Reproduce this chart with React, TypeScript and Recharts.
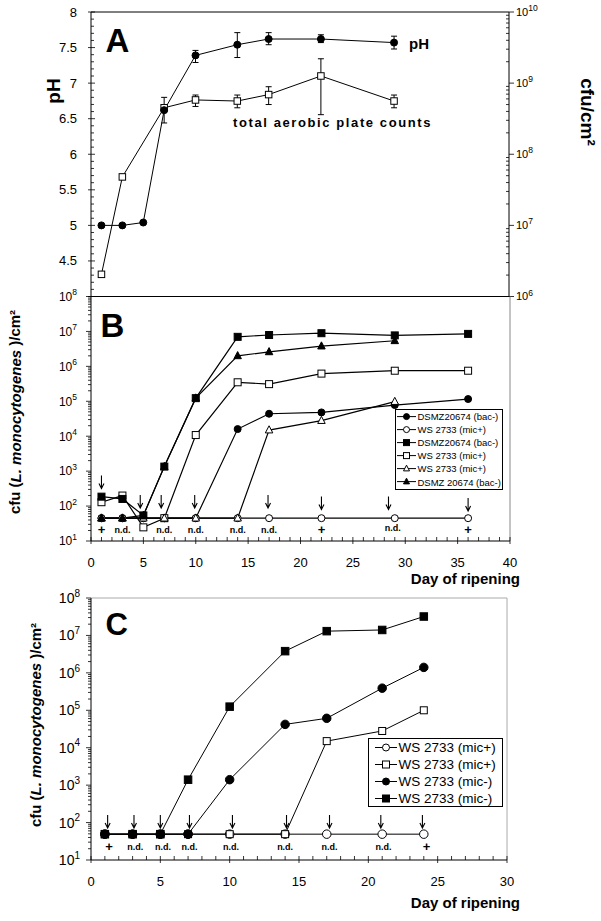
import React from 'react';
import { ComposedChart, Line, Scatter, XAxis, YAxis, ErrorBar, ReferenceLine } from 'recharts';

const FONT = '"Liberation Sans", Arial, Helvetica, sans-serif';

// ---- Panel A: pH and total aerobic plate counts ----
const daysA = [1, 3, 5, 7, 10, 14, 17, 22, 29];
const phMean = [5.0, 5.0, 5.04, 6.62, 7.39, 7.54, 7.62, 7.62, 7.57];
const phLow = [null, null, null, 6.44, 7.29, 7.36, 7.54, 7.57, 7.48];
const phHigh = [null, null, null, 6.8, 7.46, 7.71, 7.71, 7.68, 7.66];
const apcMean = [2.05e6, 4.8e7, null, 4.5e8, 5.8e8, 5.6e8, 6.9e8, 1.26e9, 5.6e8];
const apcLow = [null, null, null, null, 4.7e8, 4.5e8, 5.0e8, 3.6e8, 4.5e8];
const apcHigh = [null, null, null, null, 6.8e8, 6.8e8, 8.9e8, 2.2e9, 6.8e8];

// ---- Panel B ----
const daysB = [1, 3, 5, 7, 10, 14, 17, 22, 29, 36];
const bCircleFilled = [45, 45, 45, 45, 45, 1.6e4, 4.4e4, 4.8e4, 7.8e4, 1.16e5];
const bCircleOpen = [45, 45, 45, 45, 45, 45, 45, 45, 45, 45];
const bSquareFilled = [186, 160, 54, 1.35e3, 1.23e5, 7.0e6, 7.9e6, 8.9e6, 7.7e6, 8.5e6];
const bSquareOpen = [129, 200, 24.6, 45, 1.08e4, 3.5e5, 3.1e5, 6.2e5, 7.5e5, 7.5e5];
const bTriangleOpen = [45, 45, 45, 45, 45, 45, 1.5e4, 2.8e4, 9.8e4, null];
const bTriangleFilled = [45, 45, 54, 1.35e3, 1.23e5, 2.0e6, 2.6e6, 3.8e6, 5.4e6, null];
const legendB = ['DSMZ20674 (bac-)', 'WS 2733 (mic+)', 'DSMZ20674 (bac-)', 'WS 2733 (mic+)', 'WS 2733 (mic+)', 'DSMZ 20674 (bac-)'];
const arrowDaysB = [1, 4.7, 6.7, 9.9, 16.9, 22, 28.4, 36];
const arrowTipB = [320, 88, 88, 88, 88, 80, 80, 72];
const markDaysB = [1, 3, 7, 10, 14, 17, 22, 28.8, 36];
const markTextB = ['+', 'n.d.', 'n.d.', 'n.d.', 'n.d.', 'n.d.', '+', 'n.d.', '+'];
const markLevelB = [21, 21, 21, 21, 21, 21, 21, 24, 21];

// ---- Panel C ----
const daysC = [1, 3, 5, 7, 10, 14, 17, 21, 24];
const cCircleOpen = [49, 49, 49, 49, 49, 49, 49, 49, 49];
const cSquareOpen = [49, 49, 49, 49, 49, 49, 1.5e4, 2.8e4, 1.0e5];
const cCircleFilled = [49, 49, 49, 49, 1.4e3, 4.2e4, 6.1e4, 3.9e5, 1.4e6];
const cSquareFilled = [49, 49, 49, 1.4e3, 1.25e5, 3.8e6, 1.3e7, 1.4e7, 3.2e7];
const legendC = ['WS 2733 (mic+)', 'WS 2733 (mic+)', 'WS 2733 (mic-)', 'WS 2733 (mic-)'];
const arrowDaysC = [1.2, 3.1, 5, 7.1, 10.2, 14.1, 17.2, 20.9, 23.9];
const arrowTipC = [72, 72, 72, 72, 72, 72, 72, 72, 72];
const markDaysC = [1.3, 3.2, 5.2, 7.1, 10.1, 14.0, 17.2, 21.1, 24.2];
const markTextC = ['+', 'n.d.', 'n.d.', 'n.d.', 'n.d.', 'n.d.', 'n.d.', 'n.d.', '+'];
const markLevelC = [22.6, 22.6, 22.6, 22.6, 22.6, 22.6, 22.6, 22.6, 22.6];

// tick lists
const phTicks: number[] = [];
for (let i = 40; i <= 80; i++) phTicks.push(i / 10);
const logTicks = (lo: number, hi: number) => {
  const out: number[] = [];
  for (let e = lo; e < hi; e++) for (let m = 1; m < 10; m++) out.push(m * Math.pow(10, e));
  out.push(Math.pow(10, hi));
  return out;
};
const dayTicks = (max: number) => Array.from({ length: max + 1 }, (_, i) => i);

const dataA = daysA.map((d, i) => ({
  day: d,
  ph: phMean[i],
  phErr: phLow[i] != null ? [phMean[i] - (phLow[i] as number), (phHigh[i] as number) - phMean[i]] : undefined,
  apc: apcMean[i],
  apcErr: apcLow[i] != null && apcMean[i] != null
    ? [(apcMean[i] as number) - (apcLow[i] as number), (apcHigh[i] as number) - (apcMean[i] as number)]
    : undefined,
}));

const dataB = daysB.map((d, i) => ({
  day: d,
  cf: bCircleFilled[i], co: bCircleOpen[i], sf: bSquareFilled[i],
  so: bSquareOpen[i], to: bTriangleOpen[i], tf: bTriangleFilled[i],
}));

const dataC = daysC.map((d, i) => ({
  day: d, co: cCircleOpen[i], so: cSquareOpen[i], cf: cCircleFilled[i], sf: cSquareFilled[i],
}));

const arrowsB = arrowDaysB.map((d, i) => ({ day: d, v: arrowTipB[i] }));
const marksB = markDaysB.map((d, i) => ({ day: d, v: markLevelB[i], text: markTextB[i] }));
const arrowsC = arrowDaysC.map((d, i) => ({ day: d, v: arrowTipC[i] }));
const marksC = markDaysC.map((d, i) => ({ day: d, v: markLevelC[i], text: markTextC[i] }));

type Shape = 'circle' | 'square' | 'triangle';

const drawMarker = (shape: Shape, filled: boolean, size: number, cx: number, cy: number) => {
  const fill = filled ? '#000' : '#fff';
  if (shape === 'circle') return <circle cx={cx} cy={cy} r={size / 2} fill={fill} stroke="#000" strokeWidth={1} />;
  if (shape === 'square')
    return <rect x={cx - size / 2} y={cy - size / 2} width={size} height={size} fill={fill} stroke="#000" strokeWidth={1} />;
  const h = size * 0.95;
  return (
    <polygon
      points={`${cx},${cy - h * 0.6} ${cx - size / 2},${cy + h * 0.4} ${cx + size / 2},${cy + h * 0.4}`}
      fill={fill}
      stroke="#000"
      strokeWidth={1}
    />
  );
};

const marker = (shape: Shape, filled: boolean, size: number) => (p: any) => {
  const { cx, cy, index } = p;
  if (cx == null || cy == null || Number.isNaN(cy) || p.value == null) return <g key={`e-${index}`} />;
  return <g key={`m-${index}`}>{drawMarker(shape, filled, size, cx, cy)}</g>;
};

const Arrow = (p: any) => {
  const { cx, cy } = p;
  return (
    <path
      d={`M${cx},${cy - 13} L${cx},${cy} M${cx - 2.5},${cy - 5} L${cx},${cy} L${cx + 2.5},${cy - 5}`}
      stroke="#000"
      strokeWidth={1.1}
      fill="none"
    />
  );
};

const MarkText = (p: any) => {
  const { cx, cy, payload } = p;
  const plus = payload.text === '+';
  return (
    <text x={cx} y={cy + (plus ? 4.5 : 3)} textAnchor="middle" fontSize={plus ? 13 : 9} fontWeight="bold" fontFamily={FONT}>
      {payload.text}
    </text>
  );
};

// axis ticks
const PhTick = (p: any) => {
  const { x, y, payload } = p;
  const v = payload.value;
  const major = Math.abs(v * 2 - Math.round(v * 2)) < 1e-6;
  return (
    <g>
      <line x1={major ? x - 3 : x} x2={x + (major ? 4 : 3)} y1={y} y2={y} stroke="#000" strokeWidth={0.8} />
      {major && v > 4.01 && (
        <text x={x - 14} y={y + 4.5} textAnchor="end" fontSize={13} fontFamily={FONT}>
          {v}
        </text>
      )}
    </g>
  );
};

const logTick = (side: 'left' | 'right', fs: number, sup: number, gap: number) => (p: any) => {
  const { x, y, payload } = p;
  const e = Math.log10(payload.value);
  const major = Math.abs(e - Math.round(e)) < 1e-6;
  const s = side === 'left' ? -1 : 1;
  return (
    <g>
      <line x1={x} x2={major ? x + s * 5 : x - 3} y1={y} y2={y} stroke="#000" strokeWidth={0.8} />
      {major && (
        <text x={x + s * gap} y={y + fs * 0.36} textAnchor={side === 'left' ? 'end' : 'start'} fontSize={fs} fontFamily={FONT}>
          10
          <tspan dy={-fs * 0.45} fontSize={sup}>
            {Math.round(e)}
          </tspan>
        </text>
      )}
    </g>
  );
};

const DayTick = (p: any) => {
  const { x, y, payload } = p;
  const v = payload.value;
  const major = v % 5 === 0;
  return (
    <g>
      <line x1={x} x2={x} y1={y - 4} y2={major ? y + 3 : y} stroke="#000" strokeWidth={0.8} />
      {major && (
        <text x={x} y={y + 26} textAnchor="middle" fontSize={13} fontFamily={FONT}>
          {v}
        </text>
      )}
    </g>
  );
};

const LegendBox = (props: {
  names: string[];
  shapes: Shape[];
  filled: boolean[];
  left: number;
  top: number;
  width: number;
  height: number;
  rowH: number;
  fontSize: number;
  iconW: number;
  mSize: number;
  padL: number;
}) => (
  <div
    style={{
      position: 'absolute',
      left: props.left,
      top: props.top,
      width: props.width,
      height: props.height,
      border: '1px solid #000',
      background: '#fff',
      boxSizing: 'border-box',
      paddingLeft: props.padL,
      fontFamily: FONT,
      fontSize: props.fontSize,
    }}
  >
    {props.names.map((n, i) => (
      <div key={i} style={{ display: 'flex', alignItems: 'center', height: props.rowH, whiteSpace: 'nowrap' }}>
        <svg width={props.iconW} height={props.rowH} style={{ flex: 'none' }}>
          <line x1={0} x2={props.iconW} y1={props.rowH / 2} y2={props.rowH / 2} stroke="#000" strokeWidth={1} />
          {drawMarker(props.shapes[i], props.filled[i], props.mSize, props.iconW / 2, props.rowH / 2)}
        </svg>
        <span style={{ marginLeft: 1.5 }}>{n}</span>
      </div>
    ))}
  </div>
);

export default function App() {
  return (
    <div style={{ position: 'absolute', left: 0, top: 0, width: 601, height: 921, background: '#fff', fontFamily: FONT }}>
      {/* Panel A */}
      <div style={{ position: 'absolute', left: 0, top: 0 }}>
        <ComposedChart width={601} height={310} data={dataA} margin={{ top: 12, right: 32, bottom: 13.5, left: 31 }}>
          <XAxis dataKey="day" type="number" domain={[0, 40]} hide allowDataOverflow />
          <YAxis
            yAxisId="ph"
            type="number"
            domain={[4, 8]}
            ticks={phTicks}
            interval={0}
            width={60}
            tickSize={0}
            tickMargin={0}
            tickLine={false}
            tick={PhTick}
            axisLine={{ stroke: '#000' }}
            allowDataOverflow
          />
          <YAxis
            yAxisId="cfu"
            orientation="right"
            type="number"
            scale="log"
            domain={[1e6, 1e10]}
            ticks={logTicks(6, 10)}
            interval={0}
            width={60}
            tickSize={0}
            tickMargin={0}
            tickLine={false}
            tick={logTick('right', 11, 8.5, 7)}
            axisLine={{ stroke: '#000' }}
            allowDataOverflow
          />
          <ReferenceLine yAxisId="ph" y={8} stroke="#000" strokeWidth={1} />
          <Line
            yAxisId="cfu"
            dataKey="apc"
            stroke="#000"
            strokeWidth={1}
            connectNulls
            dot={marker('square', false, 6.5)}
            isAnimationActive={false}
          >
            <ErrorBar dataKey="apcErr" width={3} stroke="#000" strokeWidth={1} direction="y" />
          </Line>
          <Line
            yAxisId="ph"
            dataKey="ph"
            stroke="#000"
            strokeWidth={1}
            dot={marker('circle', true, 7)}
            isAnimationActive={false}
          >
            <ErrorBar dataKey="phErr" width={3} stroke="#000" strokeWidth={1} direction="y" />
          </Line>
        </ComposedChart>
      </div>

      {/* Panel B */}
      <div style={{ position: 'absolute', left: 0, top: 280 }}>
        <ComposedChart width={601} height={310} data={dataB} margin={{ top: 16.5, right: 91, bottom: 19, left: 31 }}>
          <XAxis
            dataKey="day"
            type="number"
            domain={[0, 40]}
            ticks={dayTicks(40)}
            interval={0}
            height={30}
            tickSize={0}
            tickMargin={0}
            tickLine={false}
            tick={DayTick}
            axisLine={{ stroke: '#000' }}
            allowDataOverflow
          />
          <YAxis
            type="number"
            scale="log"
            domain={[10, 1e8]}
            ticks={logTicks(1, 8)}
            interval={0}
            width={60}
            tickSize={0}
            tickMargin={0}
            tickLine={false}
            tick={logTick('left', 12, 8.5, 14)}
            axisLine={{ stroke: '#000' }}
            allowDataOverflow
          />
          <ReferenceLine y={1e8} stroke="#000" strokeWidth={1} />
          <ReferenceLine x={40} stroke="#888" strokeWidth={1} />
          <Line dataKey="cf" stroke="#000" strokeWidth={1.2} dot={marker('circle', true, 7)} isAnimationActive={false} />
          <Line dataKey="co" stroke="#000" strokeWidth={1.2} dot={marker('circle', false, 7)} isAnimationActive={false} />
          <Line dataKey="so" stroke="#000" strokeWidth={1.2} dot={marker('square', false, 7)} isAnimationActive={false} />
          <Line dataKey="to" stroke="#000" strokeWidth={1.2} dot={marker('triangle', false, 7.5)} isAnimationActive={false} />
          <Line dataKey="sf" stroke="#000" strokeWidth={1.2} dot={marker('square', true, 7)} isAnimationActive={false} />
          <Line dataKey="tf" stroke="#000" strokeWidth={1.2} dot={marker('triangle', true, 7.5)} isAnimationActive={false} />
          <Scatter data={arrowsB} dataKey="v" shape={Arrow} isAnimationActive={false} />
          <Scatter data={marksB} dataKey="v" shape={MarkText} isAnimationActive={false} />
        </ComposedChart>
      </div>

      {/* Panel C */}
      <div style={{ position: 'absolute', left: 0, top: 578 }}>
        <ComposedChart width={601} height={343} data={dataC} margin={{ top: 20, right: 94, bottom: 31, left: 31 }}>
          <XAxis
            dataKey="day"
            type="number"
            domain={[0, 30]}
            ticks={dayTicks(30)}
            interval={0}
            height={30}
            tickSize={0}
            tickMargin={0}
            tickLine={false}
            tick={DayTick}
            axisLine={{ stroke: '#000' }}
            allowDataOverflow
          />
          <YAxis
            type="number"
            scale="log"
            domain={[10, 1e8]}
            ticks={logTicks(1, 8)}
            interval={0}
            width={60}
            tickSize={0}
            tickMargin={0}
            tickLine={false}
            tick={logTick('left', 14, 10, 11)}
            axisLine={{ stroke: '#000' }}
            allowDataOverflow
          />
          <ReferenceLine y={1e8} stroke="#aaa" strokeWidth={1} />
          <ReferenceLine x={30} stroke="#aaa" strokeWidth={1} />
          <Line dataKey="co" stroke="#000" strokeWidth={1} dot={marker('circle', false, 8.5)} isAnimationActive={false} />
          <Line dataKey="so" stroke="#000" strokeWidth={1} dot={marker('square', false, 7)} isAnimationActive={false} />
          <Line dataKey="sf" stroke="#000" strokeWidth={1} dot={marker('square', true, 7.5)} isAnimationActive={false} />
          <Line dataKey="cf" stroke="#000" strokeWidth={1} dot={marker('circle', true, 8.5)} isAnimationActive={false} />
          <Scatter data={arrowsC} dataKey="v" shape={Arrow} isAnimationActive={false} />
          <Scatter data={marksC} dataKey="v" shape={MarkText} isAnimationActive={false} />
        </ComposedChart>
      </div>

      <LegendBox
        names={legendB}
        shapes={['circle', 'circle', 'square', 'square', 'triangle', 'triangle']}
        filled={[true, false, true, false, false, true]}
        left={395}
        top={408.5}
        width={108}
        height={81}
        rowH={13.2}
        fontSize={9.5}
        iconW={19}
        mSize={6}
        padL={1}
      />
      <LegendBox
        names={legendC}
        shapes={['circle', 'square', 'circle', 'square']}
        filled={[false, false, true, true]}
        left={368}
        top={738}
        width={135}
        height={69}
        rowH={17}
        fontSize={13.5}
        iconW={22}
        mSize={7}
        padL={6}
      />

      <svg width={601} height={921} style={{ position: 'absolute', left: 0, top: 0, pointerEvents: 'none' }} fontFamily={FONT}>
        <text x={105.5} y={52} fontSize={33} fontWeight="bold">A</text>
        <text x={100.5} y={337} fontSize={33} fontWeight="bold">B</text>
        <text x={105.5} y={635} fontSize={31} fontWeight="bold">C</text>
        <text x={409} y={48.5} fontSize={15} fontWeight="bold">pH</text>
        <text x={233} y={126.5} fontSize={13} fontWeight="bold" letterSpacing={1.6}>
          total aerobic plate counts
        </text>
        <text transform="translate(53,91) rotate(-90)" textAnchor="middle" dominantBaseline="central" fontSize={19} fontWeight="bold">
          pH
        </text>
        <text transform="translate(587,112) rotate(90)" textAnchor="middle" dominantBaseline="central" fontSize={19} fontWeight="bold">
          cfu/cm²
        </text>
        <text transform="translate(14.5,412) rotate(-90)" textAnchor="middle" dominantBaseline="central" fontSize={15} fontWeight="bold">
          cfu (<tspan fontStyle="italic">L. monocytogenes</tspan> )/cm²
        </text>
        <text transform="translate(35,725) rotate(-90)" textAnchor="middle" dominantBaseline="central" fontSize={15} fontWeight="bold">
          cfu (<tspan fontStyle="italic">L. monocytogenes</tspan> )/cm²
        </text>
        <text x={520} y={583.5} textAnchor="end" fontSize={15} fontWeight="bold">Day of ripening</text>
        <text x={520} y={907.5} textAnchor="end" fontSize={15} fontWeight="bold">Day of ripening</text>
      </svg>
    </div>
  );
}
